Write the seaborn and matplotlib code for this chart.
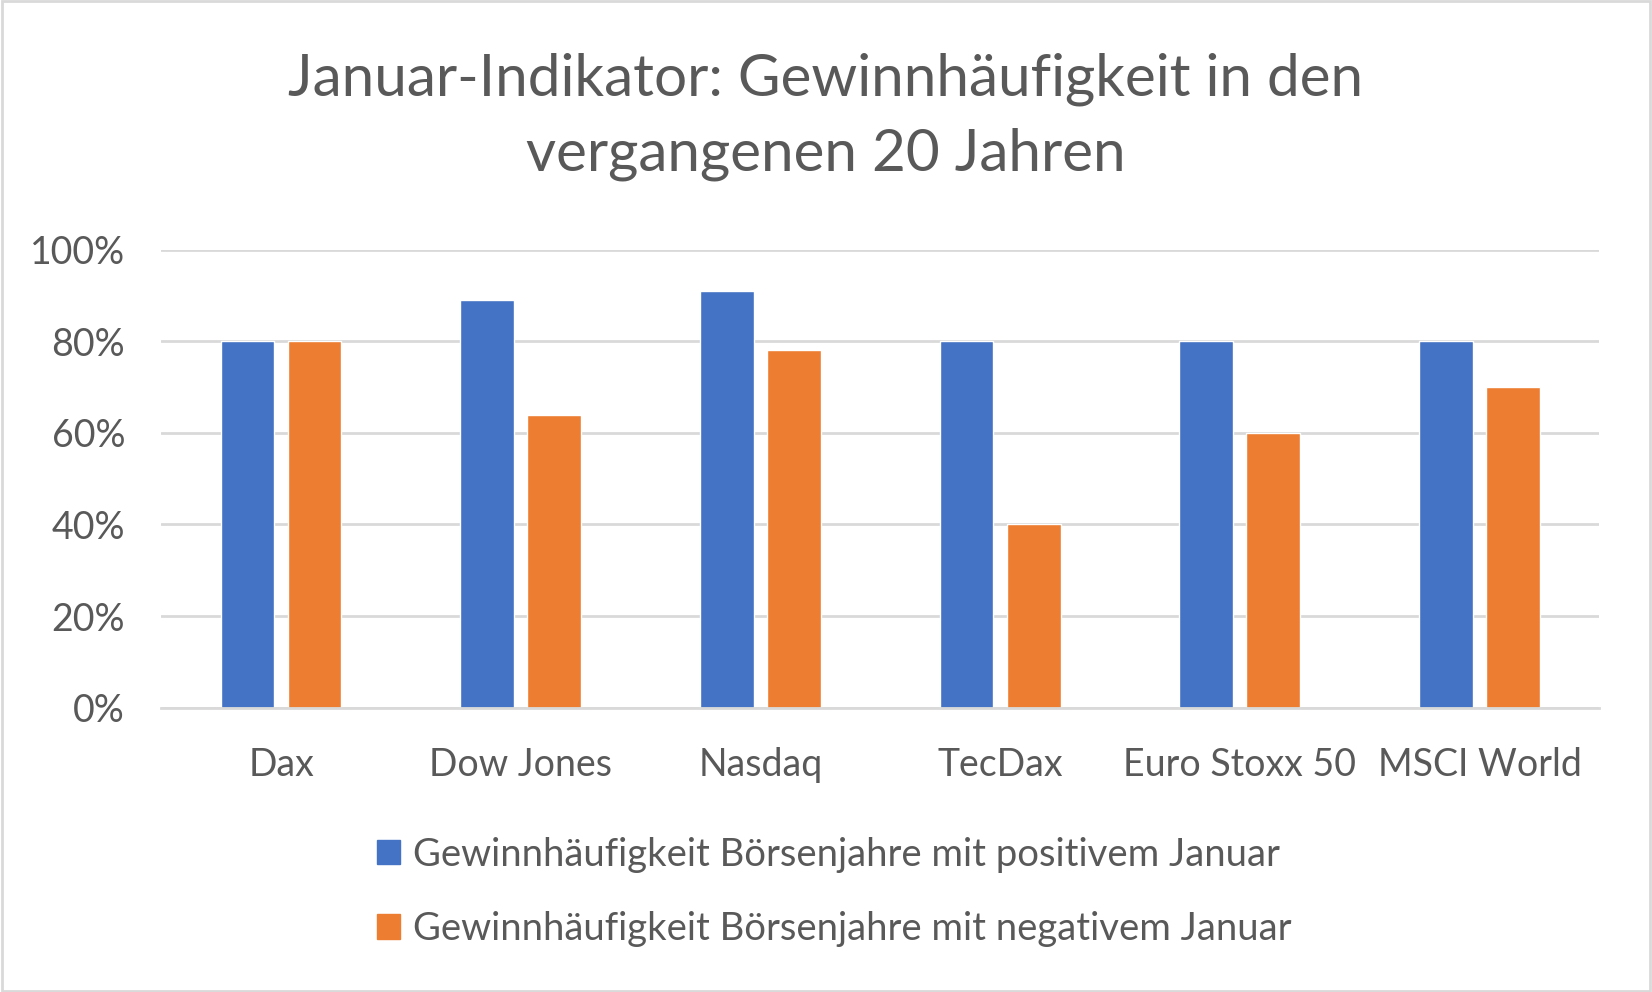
import matplotlib
matplotlib.use("Agg")
import matplotlib.pyplot as plt
import seaborn as sns
import pandas as pd
from matplotlib.patches import Rectangle

# --- Daten ---
indizes = ["Dax", "Dow Jones", "Nasdaq", "TecDax", "Euro Stoxx 50", "MSCI World"]
positiv = [80, 89, 91, 80, 80, 80]
negativ = [80, 64, 78, 40, 60, 70]
serien = ["Gewinnhäufigkeit Börsenjahre mit positivem Januar",
          "Gewinnhäufigkeit Börsenjahre mit negativem Januar"]
farben = ["#4472C4", "#ED7D31"]
y_ticks = [0, 20, 40, 60, 80, 100]

df = pd.DataFrame({
    "Index": indizes * 2,
    "Wert": positiv + negativ,
    "Serie": [serien[0]] * len(indizes) + [serien[1]] * len(indizes),
})

sns.set_theme(style="white")
plt.rcParams['font.family'] = ['Lato', 'DejaVu Sans']
text_farbe = "#595959"

fig = plt.figure(figsize=(16.52, 9.92), dpi=100)
ax = fig.add_axes([0.0976, 0.2866, 0.8705, 0.4618])

sns.barplot(data=df, x="Index", y="Wert", hue="Serie", palette=farben,
            width=0.56, gap=0.2, ax=ax, legend=False, saturation=1)

ax.set_ylim(0, 100)
ax.set_xlim(-0.5, len(indizes) - 0.5)
ax.set_yticks(y_ticks)
ax.set_yticklabels([f"{v}%" for v in y_ticks])
ax.yaxis.grid(True, color="#d9d9d9", linewidth=2)
ax.set_axisbelow(True)
for s in ["top", "right", "left"]:
    ax.spines[s].set_visible(False)
ax.spines["bottom"].set_color("#d9d9d9")
ax.spines["bottom"].set_linewidth(2)
ax.tick_params(axis="both", length=0, labelsize=27, colors=text_farbe)
ax.tick_params(axis="x", pad=28)
ax.tick_params(axis="y", pad=26)
ax.set_xlabel("")
ax.set_ylabel("")

fig.text(0.5, 0.882, "Januar-Indikator: Gewinnhäufigkeit in den\nvergangenen 20 Jahren",
         ha="center", va="center", fontsize=42, color=text_farbe, linespacing=1.5)

# Legende
handles = [Rectangle((0, 0), 1, 1, color=c) for c in farben]
leg = fig.legend(handles, serien, loc="center", bbox_to_anchor=(0.505, 0.101),
                 ncol=1, frameon=False, fontsize=27.5, handlelength=0.6,
                 handleheight=0.6, handletextpad=0.35, labelspacing=1.0)
for t in leg.get_texts():
    t.set_color(text_farbe)

# Rahmen
fig.patches.append(Rectangle((0.001, 0.001), 0.998, 0.998, transform=fig.transFigure,
                             fill=False, edgecolor="#d9d9d9", linewidth=2))

fig.savefig("out.png", dpi=100)
